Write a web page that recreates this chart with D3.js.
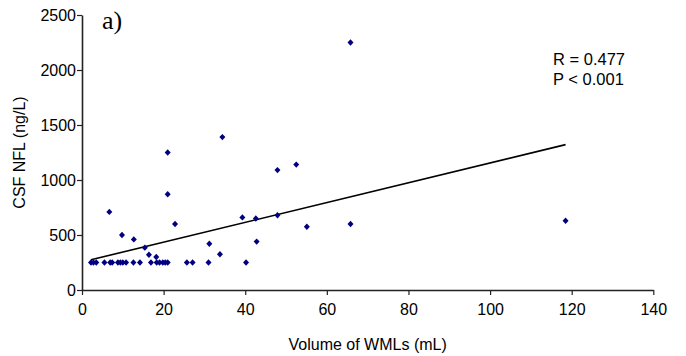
<!DOCTYPE html>
<html>
<head>
<meta charset="utf-8">
<script src="https://cdn.jsdelivr.net/npm/d3@7"></script>
<style>
  html, body { margin: 0; padding: 0; background: #fff; }
  svg { display: block; }
  text { font-family: "Liberation Sans", Arial, sans-serif; fill: #000; }
</style>
</head>
<body>
<svg id="chart" width="686" height="356"></svg>
<script>
// ---- data ----
const wmlVolume = [
  2.2, 2.8, 3.5, 5.5, 6.9, 7.4, 8.8, 9.4, 10.0, 10.8, 12.6, 14.2, 16.9, 18.3, 19.0, 19.8, 20.4, 21.0, 25.7, 27.1, 31.0, 40.2,
  6.7, 21.0, 21.0, 22.8, 9.8, 12.7, 15.4, 16.4, 18.2, 31.2, 33.8, 34.4, 47.9, 52.5, 39.3, 42.6, 47.9, 55.1, 65.8, 65.8, 42.8, 118.5
];
const csfNfl = [
  250, 250, 250, 250, 250, 250, 250, 250, 250, 250, 250, 250, 250, 250, 250, 250, 250, 250, 250, 250, 250, 250,
  710, 870, 1250, 600, 500, 460, 385, 320, 300, 420, 325, 1390, 1090, 1140, 660, 650, 680, 575, 600, 2250, 440, 630
];
const xTicks = [0, 20, 40, 60, 80, 100, 120, 140];
const yTicks = [0, 500, 1000, 1500, 2000, 2500];
const trendSlope = 9.0;
const trendIntercept = 255;
const statLines = ["R = 0.477", "P < 0.001"];
const panelLabel = "a)";
const xTitle = "Volume of WMLs (mL)";
const yTitle = "CSF NFL (ng/L)";

// ---- layout ----
const svg = d3.select("#chart");
const mLeft = 82, mRight = 653.3, mTop = 15, mBottom = 290;

const x = d3.scaleLinear().domain([0, 140]).range([mLeft, mRight]);
const y = d3.scaleLinear().domain([0, 2500]).range([mBottom, mTop]);

// axes
const xAxis = d3.axisBottom(x).tickValues(xTicks).tickFormat(d3.format("d"))
  .tickSize(5).tickSizeOuter(0).tickPadding(9);
const yAxis = d3.axisLeft(y).tickValues(yTicks).tickFormat(d3.format("d"))
  .tickSize(5).tickSizeOuter(0).tickPadding(1);

const gx = svg.append("g").attr("transform", `translate(0,${mBottom})`).call(xAxis);
const gy = svg.append("g").attr("transform", `translate(${mLeft},0)`).call(yAxis);

[gx, gy].forEach(g => {
  g.select(".domain").attr("stroke", "#222").attr("stroke-width", 1.6);
  g.selectAll(".tick line").attr("stroke", "#222").attr("stroke-width", 1.2);
  g.selectAll(".tick text")
    .style("font-family", '"Liberation Sans", Arial, sans-serif')
    .style("font-size", "16px")
    .attr("fill", "#000");
});

// axis titles
svg.append("text")
  .attr("x", (mLeft + mRight) / 2)
  .attr("y", 350)
  .attr("text-anchor", "middle")
  .style("font-size", "16px")
  .text(xTitle);

svg.append("text")
  .attr("transform", `translate(25,${(mTop + mBottom) / 2}) rotate(-90)`)
  .attr("text-anchor", "middle")
  .style("font-size", "16px")
  .text(yTitle);

// trend line across data extent
const ext = d3.extent(wmlVolume);
const lineData = ext.map(v => [v, trendIntercept + trendSlope * v]);
svg.append("path")
  .datum(lineData)
  .attr("fill", "none")
  .attr("stroke", "#000")
  .attr("stroke-width", 1.6)
  .attr("d", d3.line().x(d => x(d[0])).y(d => y(d[1])));

// points (diamonds)
const pts = wmlVolume.map((v, i) => [v, csfNfl[i]]);
const diamond = "M0,-3.2L3,0L0,3.2L-3,0Z";
svg.append("g")
  .selectAll("path")
  .data(pts)
  .join("path")
  .attr("transform", d => `translate(${x(d[0])},${y(d[1])})`)
  .attr("d", diamond)
  .attr("fill", "#000080");

// stats text
svg.append("g").selectAll("text")
  .data(statLines)
  .join("text")
  .attr("x", 553)
  .attr("y", (d, i) => 64.5 + i * 20.7)
  .style("font-size", "16.5px")
  .text(d => d);

// panel label
svg.append("text")
  .attr("x", 102)
  .attr("y", 29)
  .style("font-family", '"Liberation Serif", "Times New Roman", serif')
  .style("font-size", "26px")
  .text(panelLabel);
</script>
</body>
</html>
